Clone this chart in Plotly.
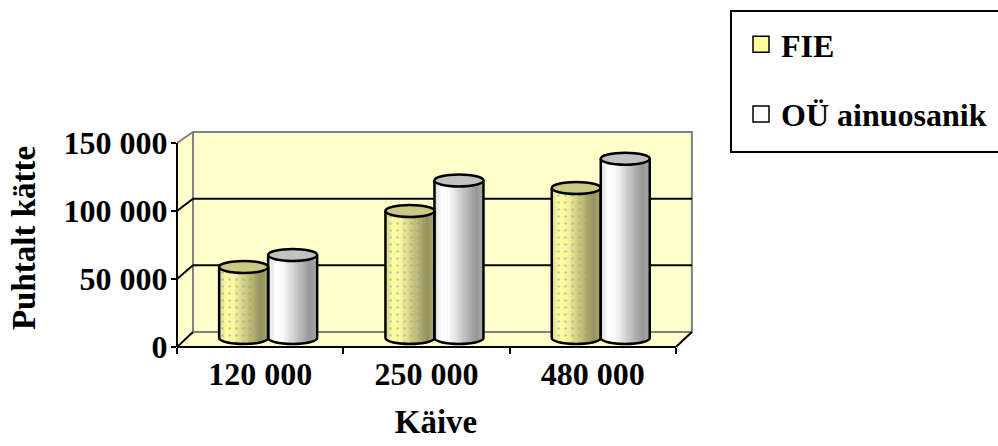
import numpy as np
import plotly.graph_objects as go

# ---- data -------------------------------------------------------------
categories = ["120 000", "250 000", "480 000"]
series_names = ["FIE", "OÜ ainuosanik"]
fie_values = [52700, 94300, 111400]
ou_values = [61600, 117000, 133100]
y_tick_values = [0, 50000, 100000, 150000]
y_tick_labels = ["0", "50 000", "100 000", "150 000"]

# ---- page / plot-area geometry (pixels) -------------------------------
W, H = 998, 446
M_L, M_T = 177, 129          # plot area left / top
PW, PH = 518, 218            # plot area size
M_R = W - M_L - PW
M_B = H - M_T - PH
CAT_PX = 166.3               # pixels per category on the front plane
Y_MAX = 150000
Y_PX = 204.0                 # pixels spanned by 0..150 000 on the front plane
UNIT_PER_PX = Y_MAX / Y_PX

DEPTH_X, DEPTH_Y = 16, 15    # oblique offset of the back wall (px)


def dx(px):
    return px / CAT_PX


def dy(px):
    return px * UNIT_PER_PX


def paper_x(px):
    return (px - M_L) / PW


def paper_y(py):
    return (M_T + PH - py) / PH


# back-wall value mapping (slightly smaller due to perspective)
BACK_SCALE = 200.0 / Y_PX


def back_y(v):
    return dy(DEPTH_Y) + v * BACK_SCALE


# mid-depth plane where the cylinders stand
MID_SCALE = 202.0 / Y_PX
MID_BASE = dy(9)
MID_SHIFT = dx(8)

x_lo, x_hi = -0.5, 2.5
BX0, BX1 = x_lo + dx(DEPTH_X), x_hi + dx(DEPTH_X)

WALL = "#FFFFCC"
EDGE = "#808080"
FONT = "Liberation Serif"

shapes = []

# side wall and floor
shapes.append(dict(type="path", layer="below", line=dict(width=0), fillcolor=WALL,
                   path=f"M {x_lo},0 L {x_lo},{Y_MAX} L {BX0},{back_y(Y_MAX)} L {BX0},{back_y(0)} Z"))
shapes.append(dict(type="path", layer="below", line=dict(width=0), fillcolor=WALL,
                   path=f"M {x_lo},0 L {x_hi},0 L {BX1},{back_y(0)} L {BX0},{back_y(0)} Z"))
# back wall
shapes.append(dict(type="rect", layer="below", x0=BX0, x1=BX1, y0=back_y(0), y1=back_y(Y_MAX),
                   fillcolor=WALL, line=dict(color=EDGE, width=2)))
# gridlines on back wall + side wall
for v in y_tick_values:
    col = EDGE if v == Y_MAX else "black"
    if 0 < v < Y_MAX:
        shapes.append(dict(type="line", layer="below", x0=BX0, x1=BX1, y0=back_y(v), y1=back_y(v),
                           line=dict(color="black", width=2)))
    shapes.append(dict(type="line", layer="below", x0=x_lo, x1=BX0, y0=v, y1=back_y(v),
                       line=dict(color=col, width=2)))
# right floor edge
shapes.append(dict(type="line", layer="below", x0=x_hi, x1=BX1, y0=0, y1=back_y(0),
                   line=dict(color="black", width=2)))
# front axis lines
shapes.append(dict(type="line", layer="above", xref="x", yref="paper", x0=x_lo, x1=x_hi, y0=0, y1=0,
                   line=dict(color="black", width=2)))
shapes.append(dict(type="line", layer="above", xref="paper", yref="y", x0=0, x1=0, y0=0, y1=Y_MAX,
                   line=dict(color="black", width=2)))

# ---- cylinders --------------------------------------------------------
N = 22
RX = dx(24.5)
RY = dy(6)
K = 0.5523

styles = [
    dict(bright=np.array([255, 255, 160]), dark=np.array([150, 146, 88]), top="#CACA82",
         pattern=dict(shape=".", fgcolor="#8C8CD2", size=7, solidity=0.12, fillmode="overlay")),
    dict(bright=np.array([255, 255, 255]), dark=np.array([150, 150, 150]), top="#C2C2C2",
         pattern=None),
]
prof_t = [0.0, 0.15, 0.3, 0.85, 1.0]
prof_s = [0.35, 0.0, 0.06, 1.0, 0.8]

fig = go.Figure()

for si, values in enumerate([fie_values, ou_values]):
    st = styles[si]
    sign = -1 if si == 0 else 1
    c_off = MID_SHIFT + sign * RX          # cylinder centre relative to category
    tops = [MID_BASE + v * MID_SCALE for v in values]
    w = 2 * RX / N
    for j in range(N):
        t = (j + 0.5) / N
        u = 2 * t - 1
        s = np.interp(t, prof_t, prof_s)
        rgb = (st["bright"] * (1 - s) + st["dark"] * s).round().astype(int)
        base = MID_BASE - RY * np.sqrt(max(0.0, 1 - u * u))
        marker = dict(color=f"rgb({rgb[0]},{rgb[1]},{rgb[2]})", line=dict(width=0))
        if st["pattern"]:
            marker["pattern"] = st["pattern"]
        fig.add_trace(go.Bar(
            x=categories, y=[tp - base for tp in tops], base=base,
            offset=c_off - RX + j * w, width=w * 1.2,
            marker=marker, showlegend=False, hoverinfo="skip"))

    for i, tp in enumerate(tops):
        xc = i + c_off
        xl, xr = xc - RX, xc + RX
        yb = MID_BASE
        path = (f"M {xl},{tp} L {xl},{yb} "
                f"C {xl},{yb - K * RY} {xc - K * RX},{yb - RY} {xc},{yb - RY} "
                f"C {xc + K * RX},{yb - RY} {xr},{yb - K * RY} {xr},{yb} L {xr},{tp}")
        shapes.append(dict(type="path", layer="above", path=path,
                           line=dict(color="black", width=2.5)))
        shapes.append(dict(type="circle", layer="above", x0=xl, x1=xr, y0=tp - RY, y1=tp + RY,
                           fillcolor=st["top"], line=dict(color="black", width=2.5)))

# legend entries
legend_fill = ["#FFFF99", "#FFFFFF"]
for si, name in enumerate(series_names):
    fig.add_trace(go.Scatter(
        x=[None], y=[None], mode="markers", name=name, legendgroup=f"g{si}",
        marker=dict(symbol="square", size=18, color=legend_fill[si],
                    line=dict(color="black", width=1.5))))

# legend frame
shapes.append(dict(type="rect", xref="paper", yref="paper",
                   x0=paper_x(731), x1=paper_x(1001), y0=paper_y(11), y1=paper_y(152),
                   line=dict(color="black", width=2), fillcolor="rgba(0,0,0,0)"))

tick_font = dict(family=FONT, size=32, color="black", weight="bold")
title_font = dict(family=FONT, size=33, color="black", weight="bold")

fig.update_layout(
    width=W, height=H,
    margin=dict(l=M_L, r=M_R, t=M_T, b=M_B, autoexpand=False),
    paper_bgcolor="white", plot_bgcolor="white",
    barmode="overlay", bargap=0,
    shapes=shapes,
    showlegend=True,
    legend=dict(x=paper_x(741), y=paper_y(17), xanchor="left", yanchor="top",
                font=dict(family=FONT, size=32, color="black", weight="bold"),
                bgcolor="rgba(0,0,0,0)", borderwidth=0, tracegroupgap=25,
                itemsizing="trace"),
    xaxis=dict(type="category", categoryorder="array", categoryarray=categories,
               range=[x_lo, x_lo + PW / CAT_PX], tickson="boundaries",
               ticks="outside", ticklen=6, tickwidth=2, tickcolor="black",
               ticklabelstandoff=5,
               showgrid=False, zeroline=False, showline=False,
               tickfont=tick_font,
               title=dict(text="Käive", font=title_font, standoff=18)),
    yaxis=dict(range=[0, dy(PH)], tickvals=y_tick_values, ticktext=y_tick_labels,
               ticks="outside", ticklen=5, tickwidth=2, tickcolor="black",
               ticklabelstandoff=-3,
               showgrid=False, zeroline=False, showline=False,
               tickfont=tick_font,
               title=dict(text="Puhtalt kätte", font=title_font, standoff=18)),
)

fig.write_html("out.html")
